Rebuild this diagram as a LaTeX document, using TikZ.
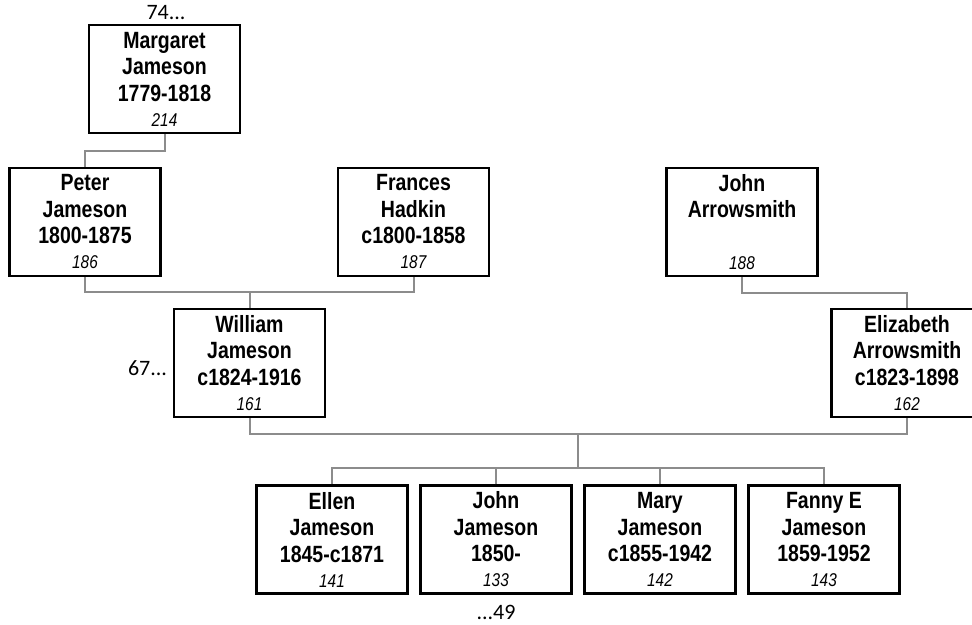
\documentclass[tikz,border=0pt]{standalone}
\usepackage{fontspec}
\usepackage{xcolor}
\usepackage{tikz}
\usetikzlibrary{positioning,calc}
\newfontfamily\namefont[FakeStretch=0.83]{Liberation Sans}
\newfontfamily\notefont{Carlito}
\newcommand{\pnum}[1]{{\fontsize{18.5}{20}\selectfont\mdseries\itshape #1}}

\begin{document}
\begin{tikzpicture}[
  x=1pt, y=-1pt,
  person/.style={draw=black, line width=2.3pt, align=center, inner sep=0pt, minimum width=151pt, minimum height=108pt,
    font=\namefont\bfseries\fontsize{23.5}{26.5}\selectfont},
  link/.style={draw=lk, line width=2pt},
  note/.style={font=\notefont\fontsize{22}{24}\selectfont, inner sep=0pt},
]
\definecolor{lk}{HTML}{8C8C8C}
\useasboundingbox (0,0) rectangle (972,624);
\clip (0,0) rectangle (972,624);

\node[person] (marg) at (164.5,79) {Margaret\\Jameson\\1779-1818\\[-1.5pt]\pnum{214}};
\node[person] (peter) at (85,222) {Peter\\Jameson\\1800-1875\\[-1.5pt]\pnum{186}};
\node[person] (frances) at (413.5,222) {Frances\\Hadkin\\c1800-1858\\[-1.5pt]\pnum{187}};
\node[person] (jarrow) at (742,222) {John\\Arrowsmith\\\mbox{}\\[-1.5pt]\pnum{188}};
\node[person] (william) at (249.5,363) {William\\Jameson\\c1824-1916\\[-1.5pt]\pnum{161}};
\node[person] (eliz) at (907,363) {Elizabeth\\Arrowsmith\\c1823-1898\\[-1.5pt]\pnum{162}};

\node[person] (ellen) at (332,539.5) {Ellen\\Jameson\\1845-c1871\\[-1.5pt]\pnum{141}};
\node[person] (john) at (496,539.5) {John\\Jameson\\1850-\\[-1.5pt]\pnum{133}};
\node[person] (mary) at (660,539.5) {Mary\\Jameson\\c1855-1942\\[-1.5pt]\pnum{142}};
\node[person] (fanny) at (824,539.5) {Fanny E\\Jameson\\1859-1952\\[-1.5pt]\pnum{143}};

\node[note] (up1) at (166,13) {74...};
\node[note] (up2) at (147.5,368) {67...};
\node[note] (down1) at (496,612) {...49};

\draw[link] (marg.south) -- ++(0,17) -| (peter.north);
\draw[link] (peter.south) -- ++(0,15) coordinate (pf) -| (frances.south);
\draw[link] (william.north) -- (william.north |- pf);
\draw[link] (jarrow.south) -- ++(0,16) -| (eliz.north);
\draw[link] (william.south) -- ++(0,16) coordinate (we) -| (eliz.south);
\coordinate (fam) at (578,434);
\draw[link] (fam) -- ++(0,34) coordinate (kids);
\draw[link] (ellen.north) |- (kids) -| (fanny.north);
\draw[link] (john.north) -- (john.north |- kids);
\draw[link] (mary.north) -- (mary.north |- kids);
\end{tikzpicture}
\end{document}
